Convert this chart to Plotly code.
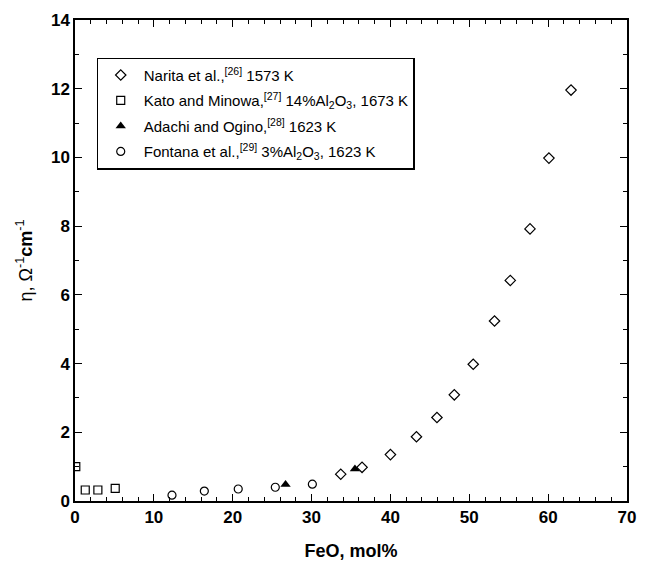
import plotly.graph_objects as go

# Electrical conductivity of FeO-containing slags vs. FeO content
narita_x = [33.7, 36.4, 40.0, 43.3, 45.9, 48.1, 50.5, 53.2, 55.2, 57.7, 60.1, 62.9]
narita_y = [0.78, 0.98, 1.35, 1.87, 2.43, 3.09, 3.98, 5.24, 6.42, 7.92, 9.98, 11.96]

kato_x = [0.1, 1.3, 2.9, 5.1]
kato_y = [1.0, 0.32, 0.32, 0.37]

adachi_x = [26.7, 35.5]
adachi_y = [0.48, 0.93]

fontana_x = [12.3, 16.4, 20.7, 25.4, 30.1]
fontana_y = [0.17, 0.29, 0.35, 0.40, 0.49]

labels = [
    "Narita et al.,<sup>[26]</sup> 1573 K",
    "Kato and Minowa,<sup>[27]</sup> 14%Al<sub>2</sub>O<sub>3</sub>, 1673 K",
    "Adachi and Ogino,<sup>[28]</sup> 1623 K",
    "Fontana et al.,<sup>[29]</sup> 3%Al<sub>2</sub>O<sub>3</sub>, 1623 K",
]

FONT = "Liberation Sans, Arial, sans-serif"
line = dict(color="black", width=1.2)

fig = go.Figure()
fig.add_trace(go.Scatter(x=narita_x, y=narita_y, mode="markers", name=labels[0], legendgroup="g1",
                         marker=dict(symbol="diamond-open", size=8, color="black", line=line)))
fig.add_trace(go.Scatter(x=kato_x, y=kato_y, mode="markers", name=labels[1], legendgroup="g2",
                         marker=dict(symbol="square-open", size=8, color="black", line=line)))
fig.add_trace(go.Scatter(x=adachi_x, y=adachi_y, mode="markers", name=labels[2], legendgroup="g3",
                         marker=dict(symbol="triangle-up", size=9, color="black")))
fig.add_trace(go.Scatter(x=fontana_x, y=fontana_y, mode="markers", name=labels[3], legendgroup="g4",
                         marker=dict(symbol="circle-open", size=8, color="black", line=line)))

axis_common = dict(
    showline=True, linecolor="black", linewidth=1.5, mirror="allticks",
    ticks="inside", ticklen=7, tickwidth=1.3, tickcolor="black",
    showgrid=False, zeroline=False,
    tickfont=dict(family=FONT, size=17, color="black", weight="bold"),
)

fig.update_layout(
    width=647, height=569,
    margin=dict(l=75, r=11, t=17, b=64),
    paper_bgcolor="white", plot_bgcolor="white",
    font=dict(family=FONT, color="black"),
    showlegend=True,
    legend=dict(
        x=0.039, y=0.922, xanchor="left", yanchor="top",
        bgcolor="white", bordercolor="black", borderwidth=1.2,
        font=dict(family=FONT, size=15, color="black"),
        itemwidth=36, traceorder="grouped", tracegroupgap=3,
    ),
    xaxis=dict(
        range=[0, 70], dtick=10,
        minor=dict(dtick=2, ticks="inside", ticklen=4, tickwidth=1, tickcolor="black"),
        title=dict(text="FeO, mol%", standoff=18,
                   font=dict(family=FONT, size=18, color="black", weight="bold")),
        **axis_common,
    ),
    yaxis=dict(
        range=[0, 14], dtick=2,
        minor=dict(dtick=1, ticks="inside", ticklen=4, tickwidth=1, tickcolor="black"),
        title=dict(text="η, Ω<sup>-1</sup><b>cm</b><sup>-1</sup>", standoff=14,
                   font=dict(family=FONT, size=18, color="black")),
        **axis_common,
    ),
)

fig.write_html("out.html")
